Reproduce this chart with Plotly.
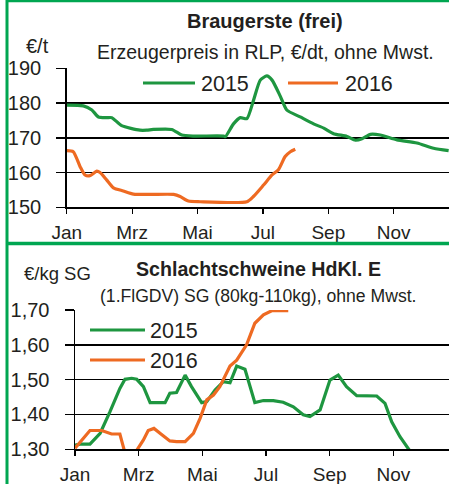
import plotly.graph_objects as go

# ---------------- data ----------------
month_ticks = [0, 2, 4, 6, 8, 10]
month_labels = ["Jan", "Mrz", "Mai", "Jul", "Sep", "Nov"]

# Braugerste (frei), €/t
gerste_2015_x = [0, 0.51, 0.77, 0.97, 1.22, 1.38, 1.68, 2.24, 2.45, 2.65, 3.21, 3.52, 3.88, 4.80, 4.85,
                 5.10, 5.31, 5.51, 5.71, 5.92, 6.12, 6.28, 6.53, 6.73, 7.14, 7.55, 7.86, 8.16, 8.57,
                 8.83, 9.03, 9.29, 9.59, 10.10, 10.71, 11.22, 11.68]
gerste_2015_y = [179.4, 179.2, 178.0, 176.0, 175.8, 175.8, 173.5, 172.2, 172.2, 172.4, 172.4, 170.8, 170.5,
                 170.5, 170.3, 174.0, 175.8, 175.5, 180.7, 186.6, 187.8, 186.6, 182.0, 178.0, 176.0,
                 174.0, 172.8, 171.2, 170.4, 169.3, 169.7, 171.0, 170.8, 169.4, 168.5, 167.0, 166.3]
gerste_2016_x = [0, 0.2, 0.41, 0.56, 0.71, 0.92, 1.02, 1.22, 1.43, 1.73, 2.04, 2.55, 3.27, 3.47, 3.72,
                 4.08, 5.51, 5.71, 6.02, 6.28, 6.48, 6.68, 6.84, 6.99]
gerste_2016_y = [166.3, 166.0, 161.7, 159.3, 159.1, 160.4, 160.0, 157.9, 155.6, 154.7, 153.8, 153.7,
                 153.7, 153.1, 151.8, 151.6, 151.6, 153.1, 156.4, 159.3, 160.9, 164.6, 166.0, 166.7]

# Schlachtschweine HdKl. E, €/kg SG
schwein_2015_x = [0, 0.16, 0.47, 0.79, 1.10, 1.41, 1.57, 1.78, 1.94, 2.15, 2.36, 2.83, 2.98, 3.19, 3.46,
                  3.66, 3.98, 4.14, 4.40, 4.66, 4.87, 5.08, 5.34, 5.65, 5.92, 6.23, 6.54, 6.86, 7.17,
                  7.38, 7.70, 8.01, 8.27, 8.53, 8.85, 9.48, 9.74, 9.95, 10.21, 10.50]
schwein_2015_y = [1.312, 1.315, 1.315, 1.346, 1.408, 1.475, 1.501, 1.504, 1.501, 1.48, 1.434, 1.434,
                  1.461, 1.463, 1.513, 1.48, 1.434, 1.437, 1.47, 1.494, 1.491, 1.539, 1.53, 1.434,
                  1.44, 1.44, 1.435, 1.422, 1.399, 1.394, 1.413, 1.499, 1.513, 1.48, 1.454, 1.453,
                  1.432, 1.379, 1.336, 1.298]
schwein_2016_x = [0, 0.26, 0.47, 0.84, 1.15, 1.41, 1.54, 1.75, 1.96, 2.15, 2.30, 2.48, 2.67, 2.98, 3.19,
                  3.46, 3.72, 3.93, 4.14, 4.35, 4.55, 4.87, 5.08, 5.39, 5.65, 5.92, 6.18, 6.70]
schwein_2016_y = [1.303, 1.332, 1.354, 1.354, 1.344, 1.344, 1.30, 1.27, 1.30, 1.327, 1.354, 1.36, 1.346,
                  1.324, 1.322, 1.322, 1.346, 1.389, 1.442, 1.456, 1.48, 1.539, 1.556, 1.60, 1.662,
                  1.686, 1.698, 1.698]

# ---------------- style ----------------
W, H = 449, 484
GREEN = "#1E9640"
ORANGE = "#EE6A22"
FRAME = "#00A651"
TXT = "#231F20"
FONT = "Liberation Sans, Arial, sans-serif"


def px(x):
    return x / W


def py(y):
    return 1 - y / H


fig = go.Figure()

fig.add_trace(go.Scatter(x=gerste_2015_x, y=gerste_2015_y, mode="lines", name="2015",
                         line=dict(color=GREEN, width=3.2, shape="spline", smoothing=0.6),
                         xaxis="x", yaxis="y", showlegend=False))
fig.add_trace(go.Scatter(x=gerste_2016_x, y=gerste_2016_y, mode="lines", name="2016",
                         line=dict(color=ORANGE, width=3.2, shape="spline", smoothing=0.6),
                         xaxis="x", yaxis="y", showlegend=False))
fig.add_trace(go.Scatter(x=schwein_2015_x, y=schwein_2015_y, mode="lines", name="2015",
                         line=dict(color=GREEN, width=3.2),
                         xaxis="x2", yaxis="y2", showlegend=False))
fig.add_trace(go.Scatter(x=schwein_2016_x, y=schwein_2016_y, mode="lines", name="2016",
                         line=dict(color=ORANGE, width=3.2),
                         xaxis="x2", yaxis="y2", showlegend=False))

xcommon = dict(tickmode="array", tickvals=month_ticks, ticktext=month_labels, showgrid=False,
               zeroline=False, showline=True, linecolor="black", linewidth=1.5,
               ticks="outside", ticklen=5, tickwidth=1.2, tickcolor="black",
               tickfont=dict(family=FONT, size=19, color=TXT), ticklabelstandoff=2,
               automargin=False)
ycommon = dict(showgrid=True, gridcolor="black", gridwidth=1.5, zeroline=False,
               showline=True, linecolor="black", linewidth=1.5,
               ticks="outside", ticklen=9, tickwidth=1.5, tickcolor="black",
               tickfont=dict(family=FONT, size=20, color=TXT), ticklabelstandoff=11,
               automargin=False)

fig.update_layout(
    width=W, height=H, autosize=False,
    margin=dict(l=0, r=0, t=0, b=0, autoexpand=False),
    paper_bgcolor="white", plot_bgcolor="white",
    separators=",.",
    showlegend=False,
    xaxis=dict(xcommon, domain=[px(66.7), 1], range=[0, (W - 66.7) / 32.7], anchor="y"),
    yaxis=dict(ycommon, domain=[py(207.3), py(68.3)], range=[150, 190], dtick=10, anchor="x"),
    xaxis2=dict(xcommon, domain=[px(75), 1], range=[0, (W - 75) / 31.83], anchor="y2"),
    yaxis2=dict(ycommon, domain=[py(449.3), py(310)], range=[1.30, 1.70], dtick=0.1,
                tickformat=".2f", anchor="x2"),
)

shapes = [
    dict(type="line", xref="paper", yref="paper", x0=px(7), x1=px(7), y0=0, y1=1,
         line=dict(color=FRAME, width=3)),
    dict(type="line", xref="paper", yref="paper", x0=px(6), x1=1, y0=py(1), y1=py(1),
         line=dict(color=FRAME, width=2.5)),
    dict(type="line", xref="paper", yref="paper", x0=px(6), x1=1, y0=py(243.5), y1=py(243.5),
         line=dict(color=FRAME, width=3.5)),
    # legend samples
    dict(type="line", xref="paper", yref="paper", x0=px(143), x1=px(195), y0=py(83), y1=py(83),
         line=dict(color=GREEN, width=3.2)),
    dict(type="line", xref="paper", yref="paper", x0=px(288), x1=px(338), y0=py(83), y1=py(83),
         line=dict(color=ORANGE, width=3.2)),
    dict(type="line", xref="paper", yref="paper", x0=px(90), x1=px(145), y0=py(330), y1=py(330),
         line=dict(color=GREEN, width=3.2)),
    dict(type="line", xref="paper", yref="paper", x0=px(90), x1=px(145), y0=py(360), y1=py(360),
         line=dict(color=ORANGE, width=3.2)),
]
fig.update_layout(shapes=shapes)


def ann(text, x, y, size, bold=False, xanchor="left"):
    t = f"<b>{text}</b>" if bold else text
    fig.add_annotation(text=t, x=px(x), y=py(y), xref="paper", yref="paper",
                       xanchor=xanchor, yanchor="middle", showarrow=False,
                       font=dict(family=FONT, size=size, color=TXT))


ann("Braugerste (frei)", 265, 21, 20, bold=True, xanchor="center")
ann("€/t", 24, 46, 20)
ann("Erzeugerpreis in RLP, €/dt, ohne Mwst.", 265, 52, 19.5, xanchor="center")
ann("2015", 199, 84, 21.5)
ann("2016", 343, 84, 21.5)

ann("Schlachtschweine HdKl. E", 258, 269, 19.6, bold=True, xanchor="center")
ann("€/kg SG", 22, 273, 18.5)
ann("(1.FlGDV) SG (80kg-110kg), ohne Mwst.", 258, 296, 17.6, xanchor="center")
ann("2015", 148, 331, 21.5)
ann("2016", 148, 361, 21.5)

fig.write_html("out.html",
               config={"displayModeBar": False, "staticPlot": True},
               post_script="document.body.style.margin='0';document.body.style.overflow='hidden';")
